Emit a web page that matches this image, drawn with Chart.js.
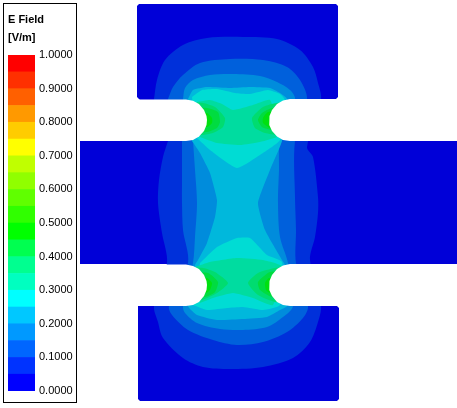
<!DOCTYPE html>
<html>
<head>
<meta charset="utf-8">
<script src="https://cdn.jsdelivr.net/npm/chart.js@4/dist/chart.umd.js"></script>
<style>
    html, body { margin: 0; padding: 0; background: #fff; }
    #field { position: absolute; left: 0; top: 0; }
    #colorbar { position: absolute; left: 0; top: 0; }
    #legendBox { position: absolute; left: 3px; top: 3px; width: 72px; height: 398px; border: 1px solid #000; background: #fff; }
</style>
</head>
<body>
<canvas id="field" width="457" height="408"></canvas>
<div id="legendBox"></div>
<canvas id="colorbar" width="80" height="408"></canvas>
<script>
/* global Chart */

// colour bar
const barTitle = ['E Field', '[V/m]'];
const barColors = ['#0000ff', '#0033ff', '#0066ff', '#0099ff', '#00c8ff', '#00ffff', '#00ffc0', '#00ff90', '#00ff50', '#00ff00',
    '#30ff00', '#60ff00', '#90ff00', '#c0ff00', '#ffff00', '#ffcc00', '#ff9900', '#ff6000', '#ff3000', '#ff0000'];
const barStep = 0.05;

// solid outline and the contours, [x, y] in plot units, lowest level first
const bodyOutline = [[139, 4], [336, 4], [338, 6], [338, 97], [336, 99], [290, 99], [290, 141], [457, 141], [457, 264], [290, 264], [290, 306],
    [337, 306], [339, 308], [339, 399], [337, 401], [140, 401], [138, 399], [138, 306], [186, 306], [186, 264], [80, 264], [80, 141], [186, 141],
    [186, 100], [140, 100], [137, 97], [137, 6]];
const level1 = [[154, 99], [157, 80], [165, 60], [183, 45], [207, 38], [243, 37], [277, 39], [300, 50], [313, 67], [318, 83], [321, 99],
    [307, 147], [313, 157], [318, 197], [318, 213], [315, 237], [310, 260], [321, 306], [318, 322], [310, 342], [293, 358], [263, 367], [230, 369],
    [203, 367], [183, 358], [163, 338], [158, 322], [154, 306], [167, 263], [162, 233], [158, 203], [159, 180], [163, 157], [168, 141]];
const level2 = [[168, 99], [173, 87], [183, 75], [200, 63], [230, 59], [263, 60], [287, 67], [300, 80], [307, 99], [295, 141], [295, 197],
    [296, 230], [296, 263], [308, 306], [303, 318], [287, 332], [263, 342], [237, 345], [213, 340], [188, 330], [172, 315], [169, 306],
    [188, 263], [183, 230], [182, 203], [182, 180], [182, 141]];
const level3 = [[183, 99], [185, 88], [193, 80], [210, 75], [233, 74], [260, 76], [277, 82], [290, 90], [295, 99], [280, 141], [279, 170],
    [278, 203], [280, 237], [288, 263], [293, 306], [283, 317], [267, 327], [243, 330], [220, 329], [197, 323], [185, 313], [183, 306],
    [193, 263], [195, 237], [197, 203], [195, 170], [193, 141]];
const level4 = [[188, 99], [193, 90], [207, 87], [230, 88], [250, 87], [270, 88], [280, 93], [287, 99], [282, 141], [270, 170], [258, 203],
    [265, 230], [282, 260], [285, 265], [287, 306], [280, 310], [267, 317], [243, 319], [217, 320], [197, 315], [188, 306], [195, 265], [198, 260],
    [207, 243], [215, 217], [217, 200], [210, 173], [200, 153], [192, 141]];
const level5Top = [[192, 97], [202, 90], [217, 89], [235, 93], [250, 94], [268, 90], [280, 94], [285, 100], [280, 140], [263, 153], [237, 168], [210, 150], [197, 138]];
const level5Bottom = [[200, 263], [217, 247], [237, 238], [250, 238], [267, 255], [282, 262], [280, 305], [263, 310], [243, 307], [227, 308], [207, 310], [193, 305]];
const level6Top = [[197, 102], [210, 100], [222, 104], [233, 110], [253, 105], [270, 100], [280, 135], [260, 142], [240, 145], [217, 143], [200, 137]];
const level6Bottom = [[195, 267], [210, 262], [237, 258], [263, 260], [283, 267], [273, 305], [253, 298], [233, 293], [213, 298], [200, 303]];
const level7Lobes = [
    [[190, 103], [203, 103], [215, 107], [225, 118], [223, 127], [213, 133], [202, 135], [190, 135]],
    [[290, 103], [277, 103], [263, 107], [252, 118], [255, 128], [265, 133], [278, 135], [290, 135]],
    [[190, 268], [203, 268], [215, 272], [228, 283], [217, 293], [202, 300], [190, 300]],
    [[290, 268], [275, 268], [258, 273], [248, 283], [258, 295], [275, 302], [290, 302]]
];
const level8Lobes = [
    [[190, 108], [207, 108], [218, 112], [220, 122], [217, 128], [207, 132], [190, 132]],
    [[290, 108], [272, 108], [262, 113], [258, 120], [262, 127], [272, 130], [290, 130]],
    [[190, 273], [208, 273], [218, 282], [215, 292], [205, 297], [190, 297]],
    [[290, 272], [270, 272], [258, 282], [260, 290], [272, 297], [290, 297]]
];
const level9Lobes = [
    [[190, 113], [207, 113], [212, 118], [212, 123], [207, 127], [190, 127]],
    [[290, 112], [268, 112], [263, 118], [263, 123], [270, 128], [290, 128]],
    [[190, 278], [207, 278], [212, 283], [210, 290], [206, 293], [190, 293]],
    [[290, 278], [269, 278], [265, 283], [266, 290], [270, 293], [290, 293]]
];
const slots = [
    [[130, 99.5], [186, 99.5], [193, 100.7], [199, 104], [204, 110], [206.5, 116], [207, 120], [206.5, 125], [204, 131], [199, 136.5], [193, 140], [186, 141], [130, 141]],
    [[345, 99], [290, 99], [283, 100.5], [277, 104], [272, 110], [269.5, 116], [269, 120], [269.5, 125], [272, 131], [277, 136.5], [283, 140], [290, 141], [345, 141]],
    [[130, 264.5], [186, 264.5], [193, 266], [199, 269], [204, 275], [206.5, 281], [207, 285], [206.5, 290], [204, 296], [199, 302], [193, 305], [186, 306], [130, 306]],
    [[345, 264], [290, 264], [283, 265.5], [277, 269], [272, 275], [269.5, 281], [269, 285], [269.5, 290], [272, 296], [277, 302], [283, 305], [290, 306], [345, 306]]
];
const fieldColors = ['#0000d8', '#0030da', '#0060dc', '#008cdc', '#00b8dc', '#00dcd4', '#00dca0', '#00dc70', '#00dc40', '#00e010'];

const layers = [
    [bodyOutline, fieldColors[0], 0],
    [level1, fieldColors[1], 0.3],
    [level2, fieldColors[2], 0.3],
    [level3, fieldColors[3], 0.3],
    [level4, fieldColors[4], 0.15],
    [level5Top, fieldColors[5], 0.15],
    [level5Bottom, fieldColors[5], 0.15],
    [level6Top, fieldColors[6], 0.15],
    [level6Bottom, fieldColors[6], 0.15],
    ...level7Lobes.map(p => [p, fieldColors[7], 0.2]),
    ...level8Lobes.map(p => [p, fieldColors[8], 0.2]),
    ...level9Lobes.map(p => [p, fieldColors[9], 0.2]),
    ...slots.map(p => [p, '#ffffff', 0]),
];

new Chart(document.getElementById('field').getContext('2d'), {
    type: 'scatter',
    data: {
        datasets: layers.map(([points, color, tension], i) => ({
            data: points.map(([x, y]) => ({ x, y })),
            showLine: true,
            fill: 'shape',
            tension,
            backgroundColor: color,
            borderWidth: 0,
            pointRadius: 0,
            order: layers.length - i,
        })),
    },
    options: {
        responsive: false,
        animation: false,
        events: [],
        plugins: { legend: { display: false }, tooltip: { enabled: false } },
        scales: {
            x: { type: 'linear', display: false, min: 0, max: 457 },
            y: { type: 'linear', display: false, min: 0, max: 408, reverse: true },
        },
    },
});

new Chart(document.getElementById('colorbar').getContext('2d'), {
    type: 'bar',
    data: {
        labels: [''],
        datasets: barColors.map(color => ({
            data: [barStep],
            backgroundColor: color,
            barPercentage: 1,
            categoryPercentage: 1,
        })),
    },
    options: {
        responsive: false,
        animation: false,
        events: [],
        layout: { padding: { left: 8, right: 7, bottom: 17 } },
        plugins: {
            legend: { display: false },
            tooltip: { enabled: false },
            title: {
                display: true,
                text: barTitle,
                align: 'start',
                color: '#000',
                font: { family: 'Arial, "Liberation Sans"', size: 11, weight: 'bold', lineHeight: 1.64 },
                padding: { top: 11, bottom: 8 },
            },
        },
        scales: {
            x: { stacked: true, display: false },
            y: {
                stacked: true,
                position: 'right',
                min: 0,
                max: 1,
                border: { display: false },
                grid: { display: false, drawTicks: false, tickLength: 0 },
                // the default fit caps the axis at half the canvas and clips the labels
                afterFit: scale => { scale.width = 38; },
                ticks: {
                    stepSize: 0.1,
                    padding: 4,
                    color: '#000',
                    font: { family: 'Arial, "Liberation Sans"', size: 11 },
                    callback: v => v.toFixed(4),
                },
            },
        },
    },
});
</script>
</body>
</html>
